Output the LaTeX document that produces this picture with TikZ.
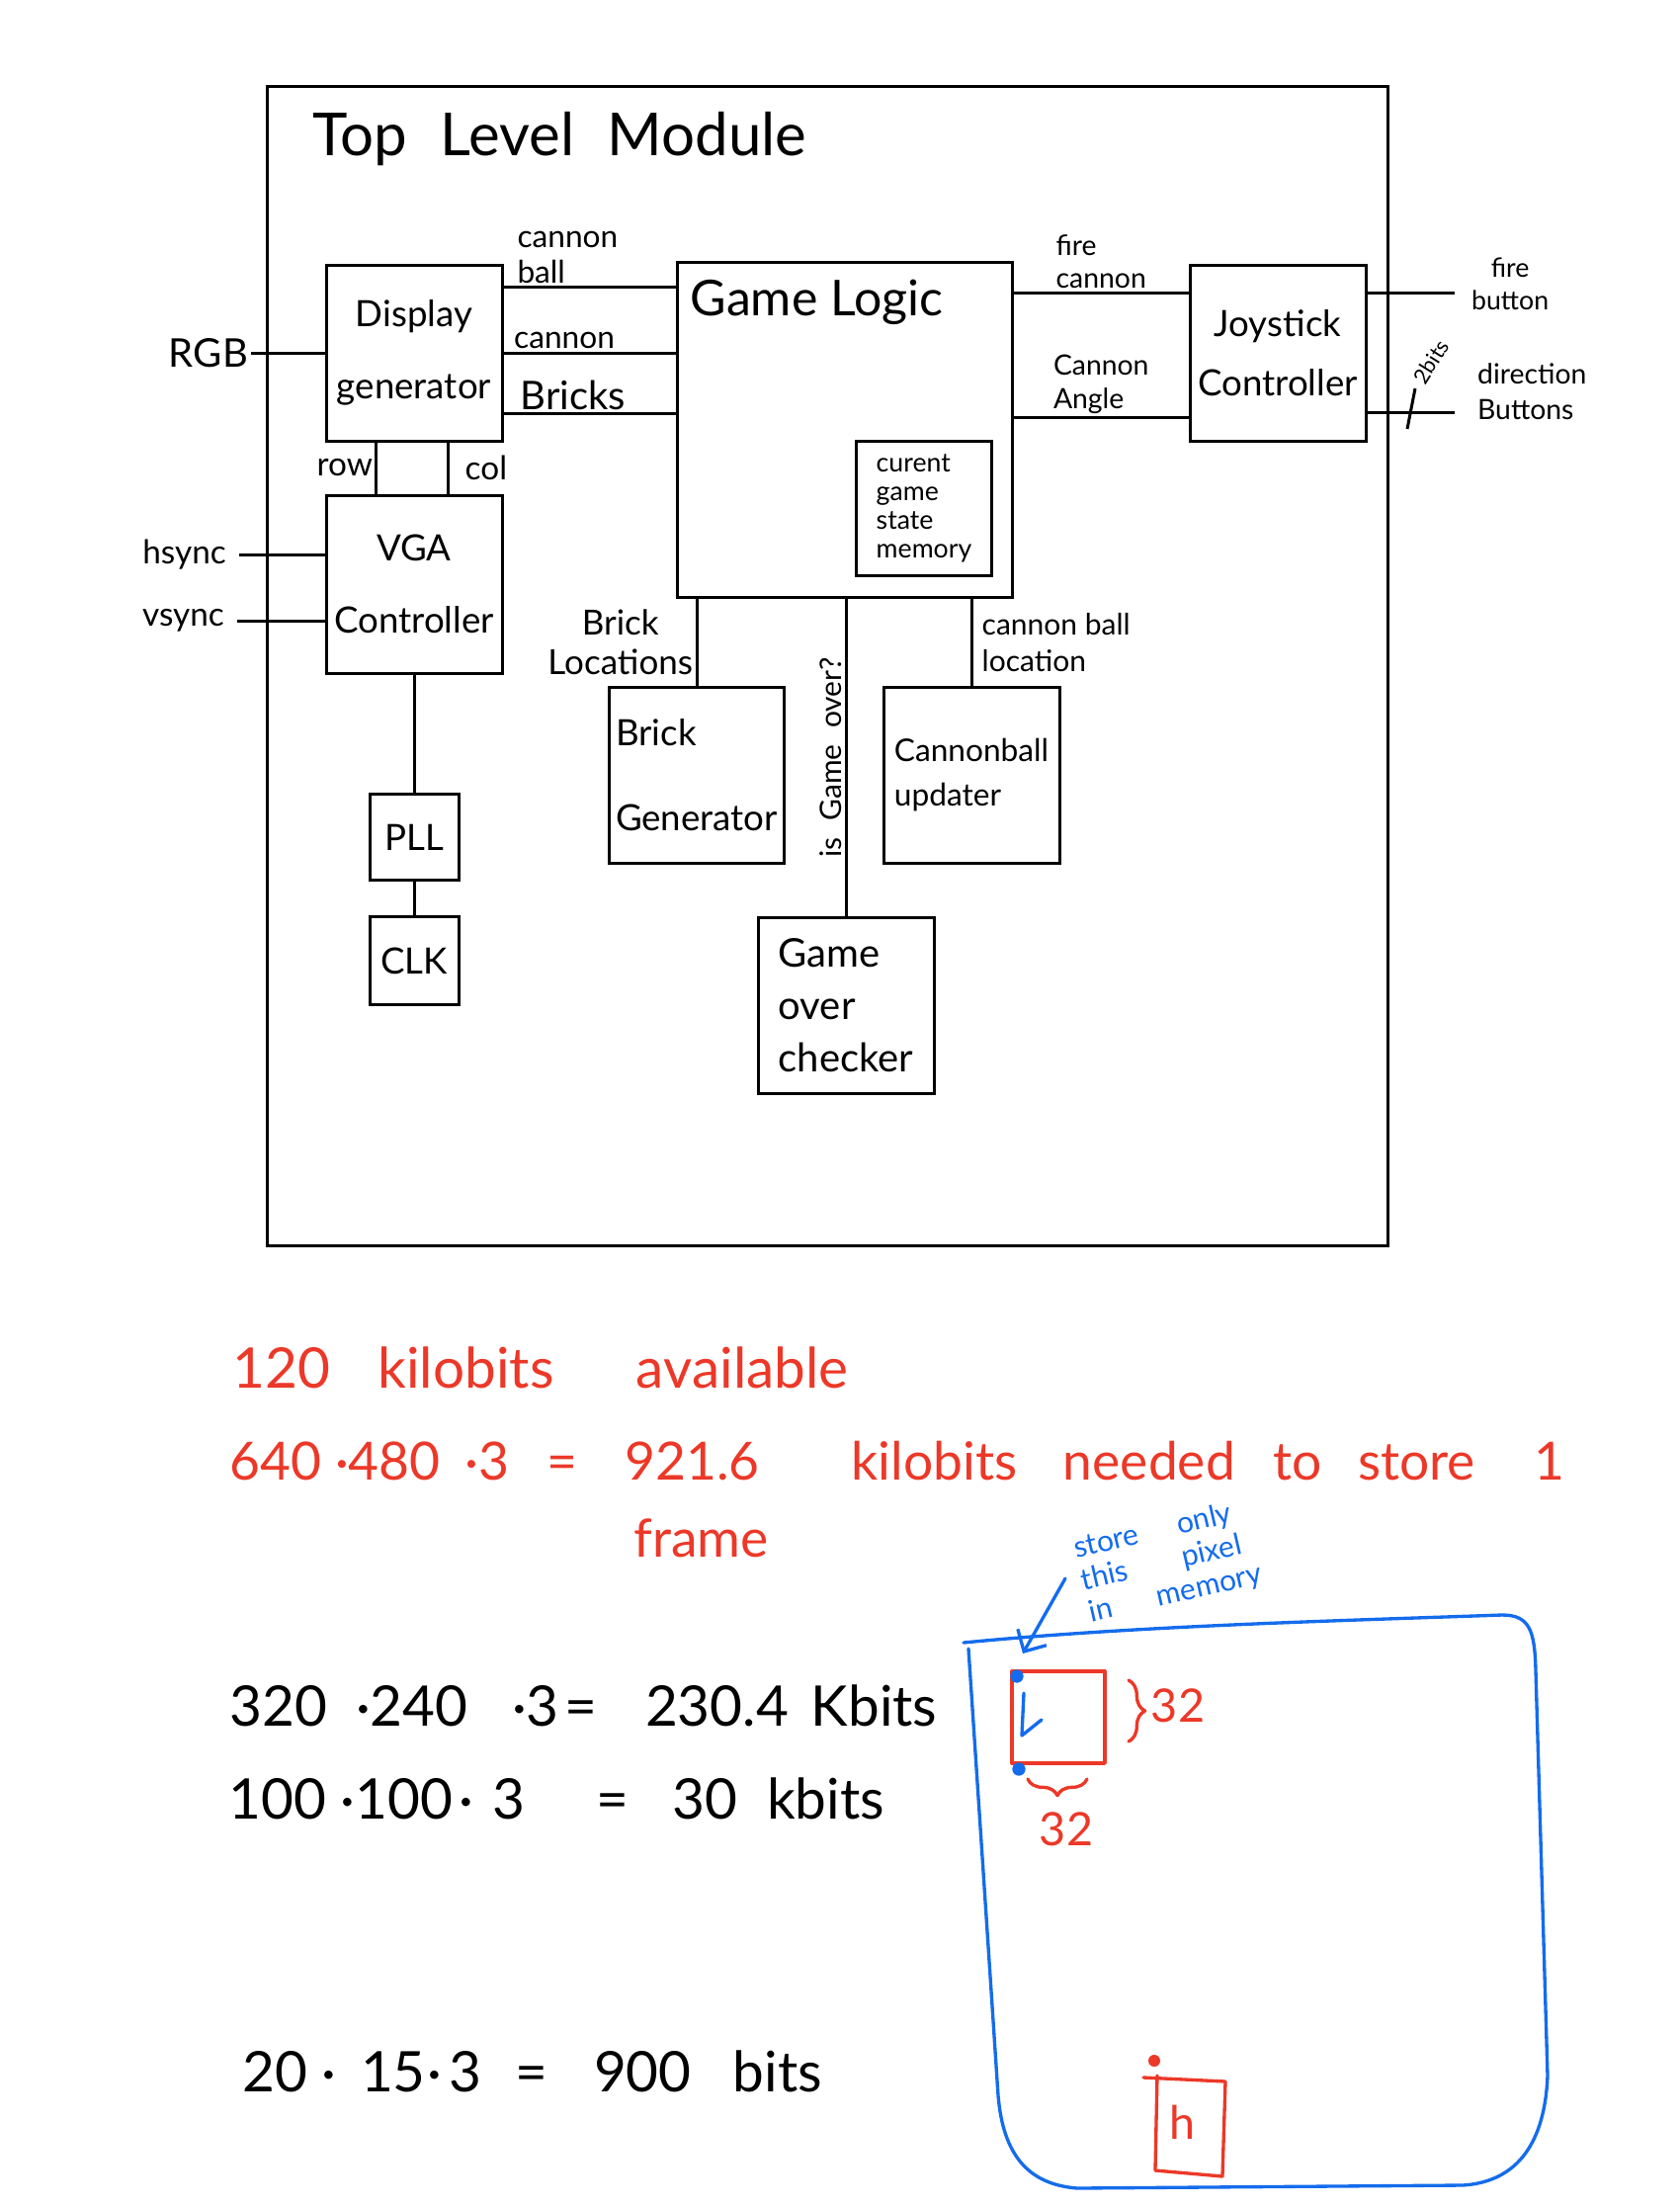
\documentclass[tikz,border=0pt]{standalone}
\usepackage{fontspec}
\setmainfont{Lato}
\usetikzlibrary{calc,arrows.meta,decorations.pathreplacing}
\definecolor{redink}{RGB}{236,56,40}
\definecolor{blueink}{RGB}{20,108,236}

\begin{document}
\begin{tikzpicture}[x=0.3pt,y=0.3pt,yscale=-1,xscale=1,
  blk/.style={draw,line width=0.9pt,inner sep=1pt,align=center,font=\fontsize{11}{13}\selectfont},
  sz/.style 2 args={minimum width=#1*0.3pt,minimum height=#2*0.3pt},
  wire/.style={line width=0.9pt},
  lbl/.style={inner sep=0.75pt,align=left,font=\fontsize{9.5}{11}\selectfont},
  sum/.style={anchor=west,inner sep=0pt,font=\fontsize{17}{20}\selectfont},
  ink/.style={line width=1pt,line cap=round,line join=round}]
\useasboundingbox (0,0) rectangle (1700,2232);

%Shape: Rectangle [outer frame]
\draw[wire] (270,87) rectangle (1404,1260);

% Text Node
\node[anchor=west,inner sep=0pt,font=\fontsize{18}{22}\selectfont] (title) at (316,141) {Top\hspace{10pt}Level\hspace{10pt}Module};

%Blocks
\node[blk,sz={178}{178}] (disp) at (419,357) {Display\\[9pt]generator};
\node[blk,sz={178}{180}] (vga) at (419,591) {VGA\\[9pt]Controller};
\node[blk,sz={339}{339}] (gl) at (855,435) {};
\node[anchor=west,inner sep=0pt,font=\fontsize{15}{18}\selectfont] (gltxt) at (698,306) {Game Logic};
\node[blk,sz={137}{136},align=left,font=\fontsize{8}{8.7}\selectfont] (mem) at (935,514) {curent\\game\\state\\memory};
\node[blk,sz={178}{178}] (joy) at (1293,357) {Joystick\\[5pt]Controller};
\node[blk,sz={90}{87}] (pll) at (419,847) {PLL};
\node[blk,sz={90}{89}] (clk) at (419,972) {CLK};
\node[blk,sz={177}{178},align=left] (brk) at (705,784) {Brick\\[13pt]Generator};
\node[blk,sz={178}{178},align=left,font=\fontsize{9.5}{13.5}\selectfont] (cbu) at (983,784) {Cannonball\\updater};
\node[blk,sz={178}{178},align=left,font=\fontsize{12}{16}\selectfont] (goc) at (856,1017) {Game\\over\\checker};

%Display generator -- Game Logic
\coordinate (cball) at ($(disp.north east)!0.135!(disp.south east)$);
\coordinate (cnon) at (disp.east);
\coordinate (brks) at ($(disp.north east)!0.84!(disp.south east)$);
\draw[wire] (cball) -- (cball -| gl.west) node[lbl,pos=0,anchor=south west,xshift=3pt] {cannon\\ball};
\draw[wire] (cnon) -- (cnon -| gl.west) node[lbl,pos=0,anchor=south west,xshift=2pt] {cannon};
\draw[wire] (brks) -- (brks -| gl.west) node[lbl,pos=0,anchor=south west,xshift=4pt,font=\fontsize{12}{14}\selectfont] {Bricks};

%Left side signals
\node[lbl,anchor=east,font=\fontsize{12}{14}\selectfont] (rgb) at (254,357) {RGB};
\draw[wire] (rgb.east) -- (disp.west);
\node[lbl,anchor=east,font=\fontsize{10}{12}\selectfont] (hs) at (232,561) {hsync};
\node[lbl,anchor=east,font=\fontsize{10}{12}\selectfont] (vs) at (230,628) {vsync};
\draw[wire] ([xshift=3pt]hs.east) -- (hs.east -| vga.west);
\draw[wire] ([xshift=3pt]vs.east) -- (vs.east -| vga.west);

%row / col
\coordinate (rw) at ($(disp.south west)!0.29!(disp.south east)$);
\coordinate (cl) at ($(disp.south west)!0.69!(disp.south east)$);
\draw[wire] (rw) -- (rw |- vga.north) node[lbl,midway,left,font=\fontsize{10}{12}\selectfont] {row};
\draw[wire] (cl) -- (cl |- vga.north) node[lbl,midway,right,xshift=4pt,font=\fontsize{10}{12}\selectfont] {col};

%clock chain
\draw[wire] (vga.south) -- (pll.north);
\draw[wire] (pll.south) -- (clk.north);

%Game Logic -- sub blocks
\draw[wire] (brk.north) -- (brk.north |- gl.south) node[lbl,midway,left,align=center,font=\fontsize{10.5}{12}\selectfont] {Brick\\Locations};
\draw[wire] (goc.north) -- (goc.north |- gl.south) node[lbl,midway,rotate=90,anchor=south,font=\fontsize{9}{11}\selectfont] {is\hspace{5pt}Game\hspace{5pt}over?};
\draw[wire] (cbu.north) -- (cbu.north |- gl.south) node[lbl,midway,right,xshift=2pt,font=\fontsize{9}{11}\selectfont] {cannon ball\\location};

%Game Logic -- Joystick Controller
\coordinate (fcan) at ($(joy.north west)!0.163!(joy.south west)$);
\coordinate (cang) at ($(joy.north west)!0.86!(joy.south west)$);
\draw[wire] (fcan -| gl.east) -- (fcan) node[lbl,midway,above,font=\fontsize{8.5}{10}\selectfont] {fire\\cannon};
\draw[wire] (cang -| gl.east) -- (cang) node[lbl,midway,above,font=\fontsize{8.5}{10}\selectfont] {Cannon\\Angle};

%Joystick inputs
\coordinate (fbtn) at (1472,296);
\coordinate (dbtn) at (1472,417);
\draw[wire] (fbtn -| joy.east) -- (fbtn);
\draw[wire] (dbtn -| joy.east) -- (dbtn);
\node[lbl,anchor=west,align=center,font=\fontsize{8}{10}\selectfont] (fbl) at (1486,287) {fire\\button};
\node[lbl,anchor=west,font=\fontsize{8.5}{11}\selectfont] (dbl) at (1492,396) {direction\\Buttons};
\draw[wire] (1432,393) -- (1424,434);
\node[inner sep=0pt,rotate=58,font=\fontsize{6.5}{7}\selectfont] (twob) at (1448,366) {2bits};

% Text Node [memory notes]
\node[sum,redink] (avail) at (235,1384) {120\hspace{14.5pt}kilobits\hspace{25pt}available};
\node[sum,redink,font=\fontsize{16}{19}\selectfont] (full) at (232,1478) {640 ·480\hspace{3.4pt} ·3\hspace{7.3pt} = \hspace{10.3pt}921.6};
\node[sum,redink,font=\fontsize{16}{19}\selectfont] (need) at (861,1478) {kilobits\hspace{14pt}needed\hspace{11.5pt}to\hspace{11pt}store\hspace{18pt}1};
\node[sum,redink,font=\fontsize{16}{19}\selectfont] (frm) at (641,1556) {frame};

\node[sum] (s320) at (232,1726) {320\hspace{4.3pt} ·240 \hspace{9.1pt}·3\hspace{-2.6pt} = \hspace{10.2pt}230.4\hspace{2.5pt} Kbits};
\node[sum] (s100) at (231,1820) {100 ·100\hspace{-2.3pt} ·\hspace{1.3pt} 3 \hspace{17.4pt}= \hspace{8.7pt}30\hspace{4.7pt} kbits};
\node[sum] (s20) at (245,2096) {20 · \hspace{3pt}15\hspace{-4pt} · \hspace{-2pt}3 \hspace{6pt}= \hspace{9.5pt}900 \hspace{8.3pt}bits};

%Screen sketch
\draw[ink,blueink] (975,1662) .. controls (1150,1645) and (1350,1640) .. (1520,1634) .. controls (1548,1634) and (1553,1650) .. (1554,1690) -- (1566,2100) .. controls (1563,2175) and (1530,2208) .. (1480,2211) -- (1090,2214) .. controls (1040,2210) and (1015,2180) .. (1010,2120) -- (980,1668);
\node[blueink,rotate=13,anchor=west,align=left,inner sep=0pt,font=\fontsize{9}{10}\selectfont] (memo) at (1094,1601) {store\hspace{12pt}only\\this\hspace{17pt}pixel\\in\hspace{14pt}memory};
\draw[ink,blueink,-{Straight Barb[length=5pt]}] (1078,1597) -- (1035,1673);

\draw[ink,redink] (1024,1691) rectangle (1118,1784);
\fill[blueink] (1029,1696) circle[radius=2pt];
\fill[blueink] (1031,1790) circle[radius=2pt];
\draw[ink,blueink] (1036,1713) -- (1034,1756) -- (1054,1740);
\draw[ink,redink,decorate,decoration={brace,amplitude=5pt}] (1142,1700) -- (1142,1762);
\draw[ink,redink,decorate,decoration={brace,amplitude=5pt}] (1100,1800) -- (1040,1800);
\node[redink,font=\fontsize{14}{16}\selectfont] (h32) at (1192,1726) {32};
\node[redink,font=\fontsize{14}{16}\selectfont] (w32) at (1079,1851) {32};

\draw[ink,redink] (1157,2102) -- (1240,2106) -- (1237,2202) -- (1169,2196) -- (1171,2100);
\fill[redink] (1168,2085) circle[radius=1.8pt];
\node[redink,font=\fontsize{14}{16}\selectfont] (hh) at (1197,2147) {h};

\end{tikzpicture}
\end{document}
